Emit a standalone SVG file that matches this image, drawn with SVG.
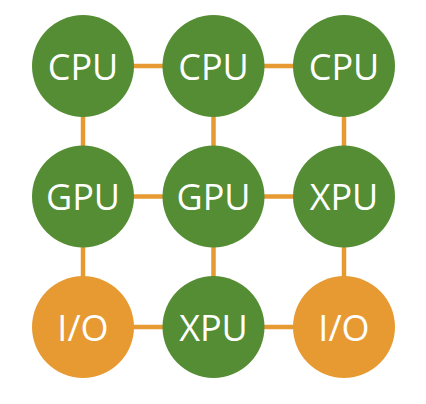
<svg xmlns="http://www.w3.org/2000/svg" width="426" height="404" viewBox="0 0 426 404">
<style>
.edge{stroke:#E79A32;stroke-width:4.5;fill:none}
.g{fill:#548D33}
.o{fill:#E79A32}
.t{font-family:"Open Sans","Noto Sans",sans-serif;font-size:36px;fill:#fff;text-anchor:middle;dominant-baseline:central}
</style>
<rect width="426" height="404" fill="#fff"/>
<g id="connectors">
<line class="edge" x1="83" y1="66" x2="344" y2="66"/>
<line class="edge" x1="83" y1="196.5" x2="344" y2="196.5"/>
<line class="edge" x1="83" y1="327" x2="344" y2="327"/>
<line class="edge" x1="83" y1="66" x2="83" y2="327"/>
<line class="edge" x1="213.5" y1="66" x2="213.5" y2="327"/>
<line class="edge" x1="344" y1="66" x2="344" y2="327"/>
</g>
<g id="n1"><circle class="g" cx="83" cy="66" r="51"/><text class="t" x="83" y="66">CPU</text></g>
<g id="n2"><circle class="g" cx="213.5" cy="66" r="51"/><text class="t" x="213.5" y="66">CPU</text></g>
<g id="n3"><circle class="g" cx="344" cy="66" r="51"/><text class="t" x="344" y="66">CPU</text></g>
<g id="n4"><circle class="g" cx="83" cy="196.5" r="51"/><text class="t" x="83" y="196.5">GPU</text></g>
<g id="n5"><circle class="g" cx="213.5" cy="196.5" r="51"/><text class="t" x="213.5" y="196.5">GPU</text></g>
<g id="n6"><circle class="g" cx="344" cy="196.5" r="51"/><text class="t" x="344" y="196.5">XPU</text></g>
<g id="n7"><circle class="o" cx="83" cy="327" r="51"/><text class="t" x="83" y="327">I/O</text></g>
<g id="n8"><circle class="g" cx="213.5" cy="327" r="51"/><text class="t" x="213.5" y="327">XPU</text></g>
<g id="n9"><circle class="o" cx="344" cy="327" r="51"/><text class="t" x="344" y="327">I/O</text></g>
</svg>
